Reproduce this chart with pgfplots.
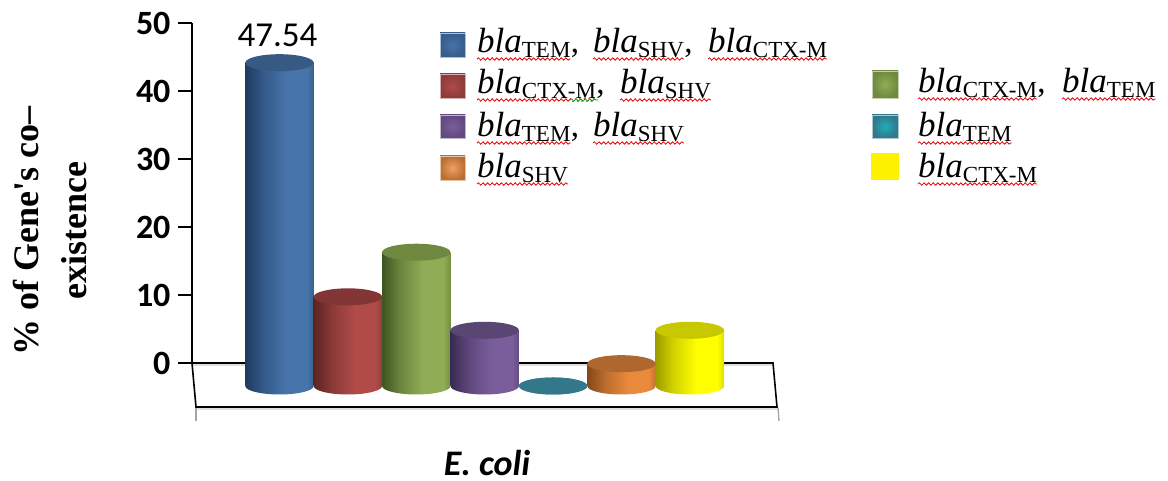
\documentclass[border=0pt]{standalone}
\usepackage{pgfplots}
\pgfplotsset{compat=1.18}
\usepackage{fontspec}
\setmainfont{Liberation Serif}
\newfontfamily\calibri{Carlito}
\usetikzlibrary{decorations.pathmorphing}

% body shading of each cylinder: dark left edge, light right of centre
\newcommand\cylshade[3]{%
  \definecolor{#1d}{HTML}{#2}\definecolor{#1l}{HTML}{#3}%
  \pgfdeclarehorizontalshading{cyl#1}{100bp}{color(0bp)=(#1d); color(25bp)=(#1d); color(38bp)=(#1d!45!#1l); color(55bp)=(#1l); color(70bp)=(#1l); color(75bp)=(#1d!35!#1l); color(100bp)=(#1d!35!#1l)}%
  \pgfdeclareplotmark{bot#1}{\pgfpathellipse{\pgfpointorigin}{\pgfqpoint{34.2pt}{0pt}}{\pgfqpoint{0pt}{8.5pt}}\pgfshadepath{cyl#1}{0}\pgfusepath{discard}}%
  \pgfdeclareplotmark{top#1}{\pgfsetfillcolor{#1t}\pgfpathellipse{\pgfpointorigin}{\pgfqpoint{34.2pt}{0pt}}{\pgfqpoint{0pt}{8.5pt}}\pgfusepathqfill}%
}
\definecolor{bluet}{HTML}{365A84}\cylshade{blue}{1E3A5E}{4674AB}
\definecolor{redt}{HTML}{833535}\cylshade{red}{5A2422}{B04B48}
\definecolor{greent}{HTML}{6F8A40}\cylshade{green}{3E5420}{8FAD55}
\definecolor{purplet}{HTML}{5A4672}\cylshade{purple}{3A2B52}{7A5E9C}
\definecolor{tealt}{HTML}{33778A}\cylshade{teal}{33778A}{33778A}
\definecolor{oranget}{HTML}{B0662F}\cylshade{orange}{84481A}{E98A3C}
\definecolor{yellowt}{HTML}{C8C800}\cylshade{yellow}{9C9C00}{FFFF00}

\newcommand\cyl[3]{%
  \addplot[only marks,mark=bot#1,forget plot] coordinates {(#2,0)};
  \addplot[ybar,bar width=68.4pt,bar shift=0pt,draw=none,shading=cyl#1,forget plot] coordinates {(#2,#3)};
  \addplot[only marks,mark=top#1,forget plot] coordinates {(#2,#3)};
}
\newcommand\itsize{\fontsize{35}{35}\selectfont\itshape}
\newcommand\subsize{\fontsize{23}{23}\selectfont\upshape}
\tikzset{wave/.style={draw=red!90!black,line width=0.8pt,decorate,decoration={snake,amplitude=1.2pt,segment length=4.6pt}}}
% \bla{x}{baseline}{subscript}{trailing}
\newcommand\bla[4]{%
  \node[anchor=base west,inner sep=0pt] (t) at (#1,#2) {\itsize bla\raisebox{-5pt}{\subsize #3}};
  \draw[wave] ([yshift=-6pt]t.base west) -- ([yshift=-6pt]t.base east);
  \node[anchor=base west,inner sep=0pt] at (t.base east) {\fontsize{33}{33}\selectfont #4};
}
\newcommand\legsq[6]{%
  \shade[inner color=#5,outer color=#6] (#1,#2) rectangle (#3,#4);
  \draw[#6!40!white,line width=0.6pt] (#1,#2) rectangle (#3,#4);
}

\begin{document}
\begin{tikzpicture}
\path[use as bounding box] (0,0) rectangle (1168pt,481pt);

% value axis
\begin{axis}[
  at={(192pt,118pt)},anchor=south west,scale only axis,width=20pt,height=340pt,
  xmin=0,xmax=1,ymin=0,ymax=50,
  axis x line=none,axis y line=left,axis line style={-,black,line width=1.6pt},
  ytick={0,10,20,30,40,50},
  tick align=outside,major tick length=14pt,
  tick style={black,line width=1.6pt},
  /pgf/number format/assume math mode=true,
  tick label style={font=\calibri\bfseries\fontsize{34}{34}\selectfont},
  yticklabel style={xshift=-4pt},
]
\end{axis}

% floor
\begin{scope}[x=1pt,y=-1pt,yshift=481pt]
  \draw[gray!25,line width=1.5pt] (197,409) -- (777,409);
  \draw[gray!25,line width=1.5pt] (192,365) -- (773,365);
  \draw[black,line width=1.6pt] (192,363) -- (773,363) -- (777,407) -- (196,407) -- cycle;
  \draw[gray!70,line width=1.4pt] (196,408) -- (196,421);
  \draw[gray!70,line width=1.4pt] (778,408) -- (779,421);
\end{scope}

% cylinders: y=0 at the floor's centre line
\begin{axis}[
  at={(0pt,0pt)},anchor=south west,scale only axis,width=1168pt,height=481pt,
  xmin=-4.086,xmax=12.99,ymin=-13.97,ymax=56.76,
  hide axis,clip=false,
]
\cyl{blue}{0}{47.54}
\cyl{red}{1}{13.11}
\cyl{green}{2}{19.67}
\cyl{purple}{3}{8.19}
\cyl{teal}{4}{0}
\cyl{orange}{5}{3.28}
\cyl{yellow}{6}{8.19}
\node[anchor=base,inner sep=0pt,yshift=16pt,xshift=-2pt,font=\calibri\fontsize{35}{35}\selectfont] at (axis cs:0,47.54) {47.54};
\end{axis}

\begin{scope}[x=1pt,y=-1pt,yshift=481pt]
  % axis titles
  \node[rotate=90,align=center,font=\bfseries\fontsize{36}{48}\selectfont,inner sep=0pt] at (50,231) {\% of Gene\textquotesingle s co--\\existence};
  \node[anchor=base,inner sep=0pt,font=\calibri\bfseries\itshape\fontsize{36}{36}\selectfont] at (487,476) {E. coli};
  % legend
  \legsq{440}{33}{465}{57}{bluel}{blued!40!bluel}
  \legsq{440}{74}{465}{98}{redl}{redd!40!redl}
  \legsq{440}{115}{465}{138}{purplel}{purpled!40!purplel}
  \legsq{440}{156}{465}{180}{orangel!80!white}{orangel!80!black}
  \legsq{872}{71}{898}{98}{greenl}{greend!40!greenl}
  \legsq{872}{115}{898}{138}{tealt!60!cyan}{tealt}
  \fill[yellow] (871,153) rectangle (899,180);
  \bla{477}{53}{TEM}{,}
  \bla{593}{53}{SHV}{,}
  \bla{708}{53}{CTX-M}{}
  \bla{477}{94}{CTX-M}{,}
  \draw[white,line width=2.5pt] (570,100) -- (598,100);
  \draw[wave,draw=green!55!black] (570,100) -- (598,100);
  \bla{620}{94}{SHV}{}
  \bla{477}{137}{TEM}{,}
  \bla{593}{137}{SHV}{}
  \bla{477}{178}{SHV}{}
  \bla{918}{93}{CTX-M}{,}
  \bla{1062}{93}{TEM}{}
  \bla{918}{137}{TEM}{}
  \bla{918}{178}{CTX-M}{}
\end{scope}
\end{tikzpicture}
\end{document}
